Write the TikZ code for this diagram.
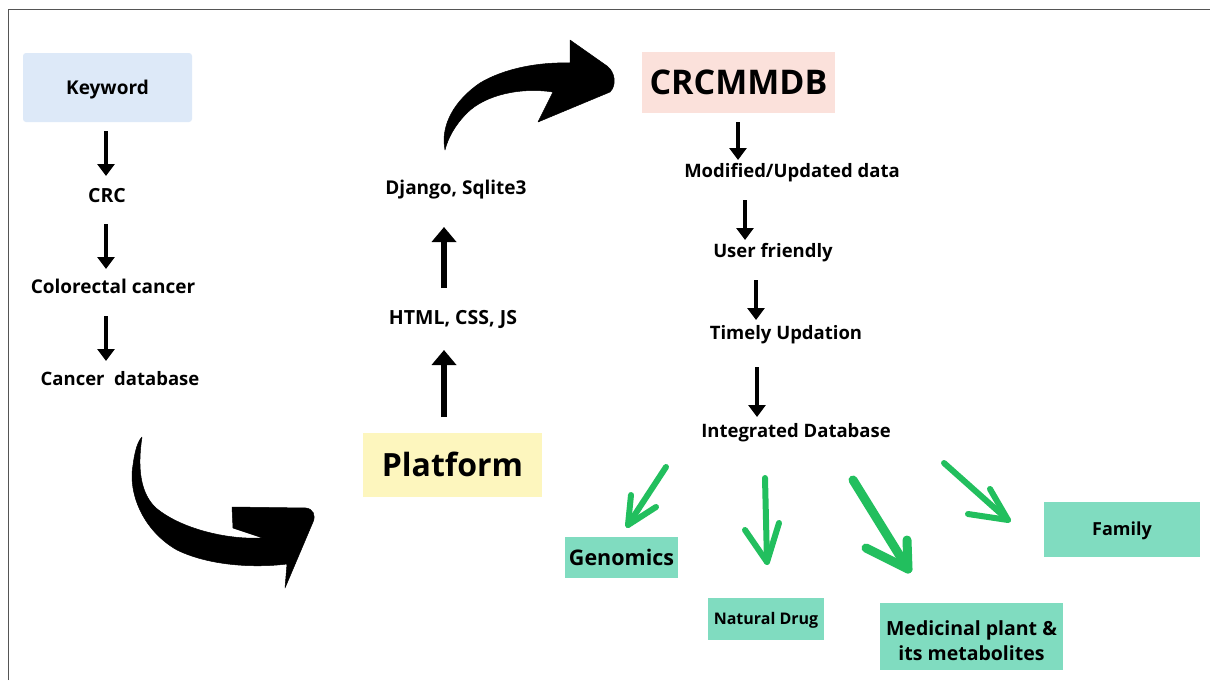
\documentclass[tikz,border=0pt]{standalone}
\usepackage{fontspec}
\setmainfont{Open Sans}
\usetikzlibrary{arrows.meta}

\definecolor{kwblue}{HTML}{DDE9F8}
\definecolor{platyellow}{HTML}{FDF6BE}
\definecolor{dbpink}{HTML}{FBE1DB}
\definecolor{tealbox}{HTML}{80DCC0}
\definecolor{leafgreen}{HTML}{22BF5E}
\definecolor{framegray}{HTML}{555555}

\newcommand{\fsz}[1]{\bfseries\fontsize{#1}{#1}\selectfont}

\tikzset{
  % one-line text, centred on the middle of its capitals
  sz/.style={font=\fsz{#1}, text height=0.72*#1pt, text depth=0pt},
  lbl/.style={sz=18.5, inner sep=0pt, text=black},
  card/.style={inner sep=0pt, align=center, text=black},
  flowarrow/.style={line width=4pt, -{Triangle[width=17pt,length=12pt]}},
  riserarrow/.style={line width=6.5pt, -{Triangle[width=24pt,length=15pt]}},
  greenstroke/.style={draw=leafgreen, line width=6pt, line cap=round, line join=round},
  bigcurve/.style={fill=black, draw=black, line width=0.5pt, line join=round},
}

\begin{document}
\begin{tikzpicture}[x=1pt, y=-1pt]
\useasboundingbox (0,0) rectangle (1210,680);
\fill[white] (0,0) rectangle (1210,680);

% outer frame (top and left edges)
\draw[framegray, line width=1.6pt] (8.5,680) -- (8.5,9.5) -- (1210,9.5);

% ---------- left column: search keywords ----------
\node[card, sz=19, fill=kwblue, rounded corners=3pt, minimum width=169pt, minimum height=69pt] (keyword) at (107.5,87.5) {Keyword};
\node[lbl, sz=19.5] (crc) at (107,195) {CRC};
\node[lbl, sz=19] (colorectal) at (113,287) {Colorectal cancer};
\node[lbl, sz=18.5] (cancerdb) at (120,379) {Cancer\ \ database};

\coordinate (k1) at (106,131); \coordinate (k2) at (106,176);
\coordinate (c1) at (106,224); \coordinate (c2) at (106,269);
\coordinate (d1) at (106,316); \coordinate (d2) at (106,361);
\draw[flowarrow] (k1) -- (k2);
\draw[flowarrow] (c1) -- (c2);
\draw[flowarrow] (d1) -- (d2);

% big swoosh from the keywords to the platform
\draw[bigcurve] (142,437) .. controls (137,470) and (141,494) .. (156,508)
  .. controls (180,528) and (225,540) .. (263,538)
  -- (233,528) -- (232,507) -- (306,508)
  .. controls (313,509) and (316,515) .. (313,522)
  -- (285,588) -- (287,564)
  .. controls (255,568) and (210,566) .. (177,550)
  .. controls (142,530) and (128,492) .. (133,465)
  .. controls (135,450) and (138,441) .. (142,437) -- cycle;

% ---------- middle column: platform stack ----------
\node[card, sz=32, fill=platyellow, minimum width=179pt, minimum height=64pt] (platform) at (452.5,465) {Platform};
\node[lbl, sz=19.5] (html) at (453,317) {HTML, CSS, JS};
\node[lbl, sz=19] (django) at (456,188) {Django, Sqlite3};

\coordinate (p1) at (444,417); \coordinate (p2) at (444,350);
\coordinate (h1) at (444,288); \coordinate (h2) at (444,227);
\draw[riserarrow] (p1) -- (p2);
\draw[riserarrow] (h1) -- (h2);

% swoosh from the framework to the database
\draw[bigcurve] (445,150) .. controls (440,125) and (455,100) .. (480,83)
  .. controls (505,68) and (540,62) .. (570,63)
  -- (570,40) -- (607,66)
  .. controls (615,72) and (617,85) .. (610,92)
  -- (538,122) -- (553,92)
  .. controls (520,87) and (485,95) .. (467,113)
  .. controls (455,125) and (448,138) .. (445,150) -- cycle;

% ---------- right column: database features ----------
\node[card, sz=34, fill=dbpink, minimum width=193pt, minimum height=61pt] (crcmmdb) at (738.5,82.5) {CRCMMDB};
\node[lbl] (modified) at (792,171) {Modified/Updated data};
\node[lbl] (userfriendly) at (773,251) {User friendly};
\node[lbl] (timely) at (786,333) {Timely Updation};
\node[lbl] (integrated) at (796,431) {Integrated Database};

\coordinate (m1) at (738,122); \coordinate (m2) at (738,160);
\coordinate (u1) at (745,200); \coordinate (u2) at (745,240);
\coordinate (t1) at (756,280); \coordinate (t2) at (756,320);
\coordinate (i1) at (757,367); \coordinate (i2) at (757,417);
\draw[flowarrow] (m1) -- (m2);
\draw[flowarrow] (u1) -- (u2);
\draw[flowarrow] (t1) -- (t2);
\draw[flowarrow] (i1) -- (i2);

% ---------- data categories ----------
\node[card, sz=21.5, fill=tealbox, minimum width=113pt, minimum height=41pt] (genomics) at (621.5,557.5) {Genomics};
\node[card, sz=16, fill=tealbox, minimum width=116pt, minimum height=42pt] (naturaldrug) at (766,619) {Natural Drug};
\node[card, fill=tealbox, minimum width=183pt, minimum height=67pt] (medicinal) at (971.5,636.5) {};
\node[card, font=\bfseries\fontsize{19.5}{25}\selectfont] (medicinaltext) at (medicinal.center) [yshift=-4.5pt] {Medicinal plant \&\\its metabolites};
\node[card, sz=18, fill=tealbox, minimum width=156pt, minimum height=55pt] (family) at (1122,529.5) {Family};

% hand-drawn green arrows
\coordinate (g0) at (666,467); \coordinate (g1) at (628,525);
\coordinate (gl) at (631,495); \coordinate (gr) at (656,507);
\draw[greenstroke] (g0) -- (g1);
\draw[greenstroke] (gl) -- (g1) -- (gr);

\coordinate (n0) at (765,478); \coordinate (n1) at (767,562);
\coordinate (nl) at (745,530); \coordinate (nr) at (779,523);
\draw[greenstroke] (n0) -- (n1);
\draw[greenstroke] (nl) -- (n1) -- (nr);

\coordinate (e0) at (853,480); \coordinate (e1) at (908,569);
\coordinate (el) at (866,548); \coordinate (er) at (907,540);
\draw[greenstroke, line width=9pt] (e0) -- (e1);
\draw[greenstroke, line width=9pt] (el) -- (e1) -- (er);

\coordinate (f0) at (944,463); \coordinate (f1) at (1008,520);
\coordinate (fl) at (968,514); \coordinate (fr) at (990,489);
\draw[greenstroke] (f0) -- (f1);
\draw[greenstroke] (fl) -- (f1) -- (fr);

\end{tikzpicture}
\end{document}
